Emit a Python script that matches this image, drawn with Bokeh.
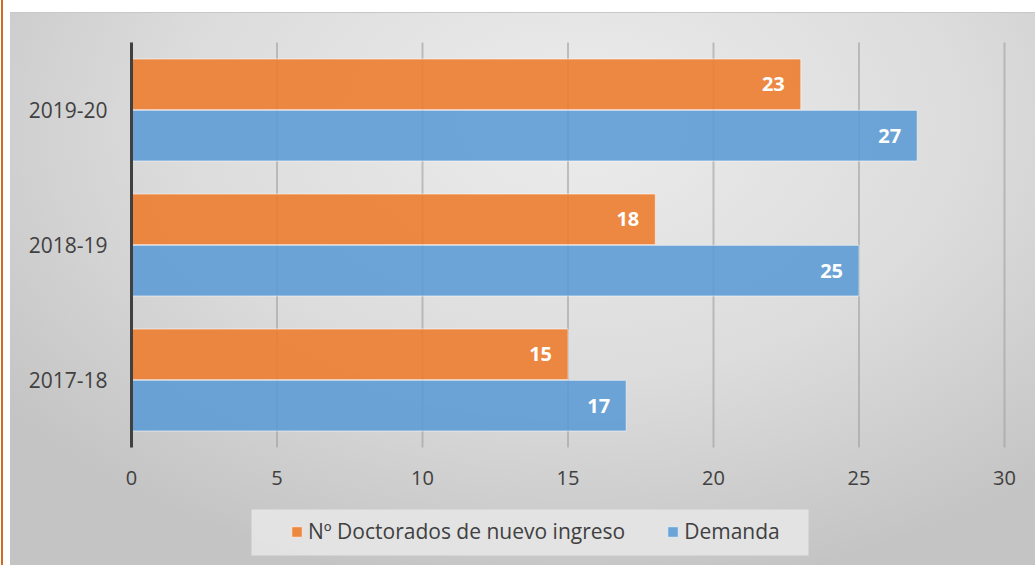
from bokeh.plotting import figure
from bokeh.models import (ColumnDataSource, Legend, LegendItem, FixedTicker,
                          BoxAnnotation, Range1d)
from bokeh.core.properties import value
from bokeh.embed import file_html
from bokeh.resources import INLINE

# ---- data ----
years = ["2017-18", "2018-19", "2019-20"]
doctorados = [15, 18, 23]
demanda = [17, 25, 27]
series_names = ["Nº Doctorados de nuevo ingreso", "Demanda"]
x_ticks = [0, 5, 10, 15, 20, 25, 30]

ORANGE = "#ED7D31"
BLUE = "#5B9BD5"
TXT = "#404040"
FONT = "Open Sans"

OFF = 0.19   # offset of each bar from the category centre
H = 0.375    # bar thickness (category units)

n = len(years)
pos = [i + 0.5 for i in range(n)]
src = ColumnDataSource(dict(
    y_doct=[c + OFF for c in pos],
    y_dem=[c - OFF for c in pos],
    doct=doctorados,
    dem=demanda,
    doct_lbl=[str(v) for v in doctorados],
    dem_lbl=[str(v) for v in demanda],
))

bg = ("linear-gradient(#cf6a1f,#cf6a1f) 1px 0 / 2px 100% no-repeat, "
      "linear-gradient(#c8c8c8,#c8c8c8) 10px 12px / 100% 1px no-repeat, "
      "radial-gradient(ellipse 70% 85% at 55% 20%, #ececec 0%, #dcdcdc 55%, #c4c4c4 100%) 10px 12px / 1025px 553px no-repeat, "
      "#ffffff")

# Layout (pixels): value axis 0..30 spans x = 131..1004, bar area spans y = 42..447.
W, HT = 1035, 565
X0, X1, Y0, Y1 = 131, 1004, 42, 447
xs = (X1 - X0) / 30.0
ys = (Y1 - Y0) / float(n)
x_range = Range1d(-X0 / xs, 30 + (W - X1) / xs)
y_range = Range1d(-(HT - Y1) / ys, n + Y0 / ys)

p = figure(width=W, height=HT, x_range=x_range, y_range=y_range,
           output_backend="svg", toolbar_location=None,
           min_border=0, styles={"background": bg})

p.background_fill_alpha = 0
p.border_fill_alpha = 0
p.outline_line_color = None

# vertical gridlines (only over the bar area)
p.xgrid.grid_line_color = None
p.ygrid.grid_line_color = None
p.segment(x0=x_ticks, x1=x_ticks, y0=[0] * len(x_ticks), y1=[n] * len(x_ticks),
          line_color="#a0a0a0", line_alpha=0.6, line_width=2)

r1 = p.hbar(y='y_doct', right='doct', left=0, height=H,
            fill_color=ORANGE, fill_alpha=0.9, line_color="white", line_alpha=0.55,
            line_width=1, source=src)
r2 = p.hbar(y='y_dem', right='dem', left=0, height=H,
            fill_color=BLUE, fill_alpha=0.88, line_color="white", line_alpha=0.55,
            line_width=1, source=src)

lbl_kw = dict(x_offset=-16, text_align="right", text_baseline="middle",
              text_color="white", text_font=value(FONT), text_font_style="bold",
              text_font_size="20px", source=src)
p.text(x='doct', y='y_doct', text='doct_lbl', **lbl_kw)
p.text(x='dem', y='y_dem', text='dem_lbl', **lbl_kw)

# y axis (categories), pinned at value 0
p.yaxis.fixed_location = 0
p.yaxis.ticker = FixedTicker(ticks=pos)
p.yaxis.major_label_overrides = {c: y for c, y in zip(pos, years)}
p.yaxis.bounds = (0, n)
p.yaxis.axis_line_color = TXT
p.yaxis.axis_line_width = 3
p.yaxis.major_tick_line_color = None
p.yaxis.minor_tick_line_color = None
p.yaxis.major_label_text_font = FONT
p.yaxis.major_label_text_font_size = "21px"
p.yaxis.major_label_text_color = TXT
p.yaxis.major_label_standoff = 18

# x axis (values), pinned at the bottom of the bar area
p.xaxis.fixed_location = 0
p.xaxis.ticker = FixedTicker(ticks=x_ticks)
p.xaxis.axis_line_color = None
p.xaxis.major_tick_line_color = None
p.xaxis.minor_tick_line_color = None
p.xaxis.major_label_text_font = FONT
p.xaxis.major_label_text_font_size = "20px"
p.xaxis.major_label_text_color = TXT
p.xaxis.major_label_standoff = 17

# legend box + legend
box = BoxAnnotation(left=251, right=808, bottom=HT - 555, top=HT - 509,
                    left_units="screen", right_units="screen",
                    top_units="screen", bottom_units="screen",
                    fill_color="#e6e6e6", fill_alpha=0.9, line_color=None)
p.add_layout(box)

legend = Legend(items=[LegendItem(label=series_names[0], renderers=[r1]),
                       LegendItem(label=series_names[1], renderers=[r2])],
                orientation="horizontal", location=(290, 20),
                glyph_width=13, glyph_height=13, label_standoff=5, spacing=41,
                padding=0, label_height=24,
                label_text_font=FONT, label_text_font_size="21px",
                label_text_color=TXT,
                background_fill_alpha=0, border_line_color=None)
p.add_layout(legend, "center")

open("out.html", "w").write(file_html(p, INLINE))
